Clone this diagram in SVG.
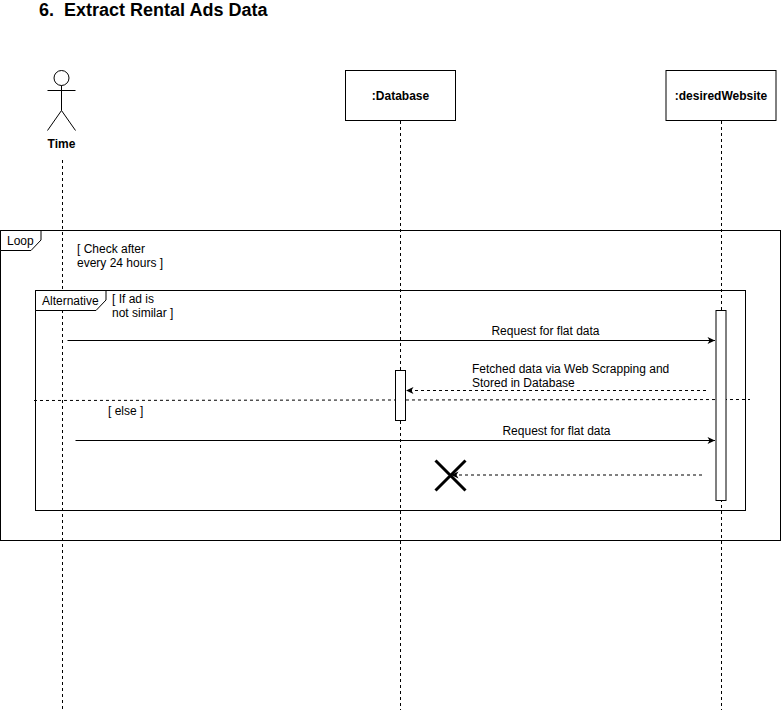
<svg xmlns="http://www.w3.org/2000/svg" width="781" height="713" viewBox="0 0 781 713">
<style>
text{font-family:"Liberation Sans",Arial,sans-serif;font-size:12px;fill:#000}
.b{font-weight:bold}
.s{fill:none;stroke:#000;stroke-width:1}
.box{fill:#fff;stroke:#000;stroke-width:1}
.d{fill:none;stroke:#000;stroke-width:1;stroke-dasharray:3 3}
</style>
<defs>
<marker id="a" markerUnits="userSpaceOnUse" markerWidth="9" markerHeight="8" refX="8" refY="4" orient="auto"><path d="M0.5 0.5L8 4L0.5 7.5L2.5 4Z" fill="#000"/></marker>
</defs>
<rect width="781" height="713" fill="#fff"/>
<text id="title" x="39" y="16" class="b" style="font-size:18px" xml:space="preserve">6.  Extract Rental Ads Data</text>
<g id="lifelines">
<path class="d" d="M62.5 160V710"/>
<path class="d" d="M400.500 121V710"/>
<path class="d" d="M721.500 121V710"/>
</g>
<g id="frame-loop">
<rect class="s" x="0.500" y="230.500" width="780" height="310"/>
<path class="box" d="M0.500 230.500H41V240L31 250.500H0.500Z"/>
<text x="7" y="245">Loop</text>
<text x="77" y="253">[ Check after</text>
<text x="77" y="267">every 24 hours ]</text>
</g>
<g id="frame-alt">
<rect class="s" x="35.500" y="290.500" width="710" height="220"/>
<path class="box" d="M35.500 290.500H106V300L96 310.500H35.500Z"/>
<text x="42" y="305">Alternative</text>
<text x="112" y="303">[ If ad is</text>
<text x="112" y="317">not similar ]</text>
<path class="d" d="M34 400.500L750 399.500"/>
<text x="108" y="415">[ else ]</text>
</g>
<g id="actor-time">
<circle class="s" cx="61.500" cy="78" r="7.500"/>
<path class="s" d="M61.500 85.500V110.500M47.500 90.500H75.500M47.500 130.500L61.500 110.500L75.500 130.500"/>
<text x="61.500" y="148" class="b" text-anchor="middle">Time</text>
</g>
<g id="node-database">
<rect class="box" x="345.500" y="70.500" width="110" height="50"/>
<text x="400.500" y="100" class="b" text-anchor="middle">:Database</text>
</g>
<g id="node-website">
<rect class="box" x="666" y="70.500" width="110" height="50"/>
<text x="721" y="100" class="b" text-anchor="middle">:desiredWebsite</text>
</g>
<g id="activation-database"><rect class="box" x="395.500" y="370.500" width="10" height="50"/></g>
<g id="activation-website"><rect class="box" x="716" y="310.500" width="10" height="190"/></g>
<g id="connectors">
<path class="s" d="M67.500 340.500H715" marker-end="url(#a)"/>
<text x="545.500" y="335" text-anchor="middle">Request for flat data</text>
<path class="d" d="M706 390.500H406" marker-end="url(#a)"/>
<text x="472" y="373">Fetched data via Web Scrapping and</text>
<text x="472" y="387">Stored in Database</text>
<path class="s" d="M75.500 440.500H715" marker-end="url(#a)"/>
<text x="556.500" y="435" text-anchor="middle">Request for flat data</text>
<path class="d" d="M702 475H451" marker-end="url(#a)"/>
</g>
<g id="destroy"><path d="M435.500 460.500L465.500 490.500M465.500 460.500L435.500 490.500" fill="none" stroke="#000" stroke-width="3"/></g>
</svg>
